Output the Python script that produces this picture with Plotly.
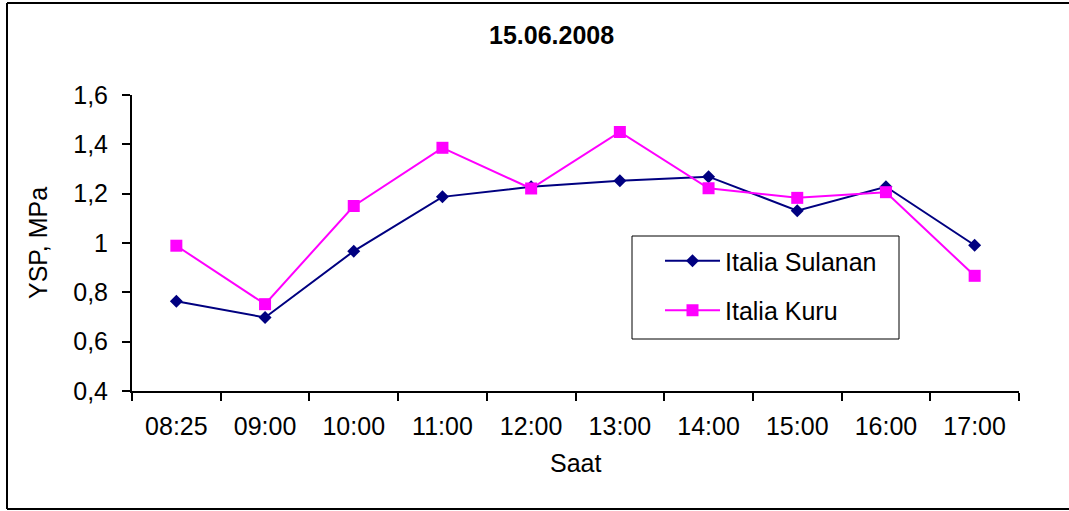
import plotly.graph_objects as go

hours = ["08:25", "09:00", "10:00", "11:00", "12:00", "13:00", "14:00", "15:00", "16:00", "17:00"]
sulanan = [0.764, 0.698, 0.967, 1.187, 1.228, 1.252, 1.269, 1.131, 1.228, 0.991]
kuru = [0.989, 0.752, 1.150, 1.386, 1.221, 1.450, 1.222, 1.183, 1.206, 0.867]

W, H = 1069, 511
L, R, T, B = 132, 1019, 95, 391
FONT = "Arial, Liberation Sans, sans-serif"


def px_x(p):
    return (p - L) / (R - L)


def px_y(p):
    return (B - p) / (B - T)


fig = go.Figure()
fig.add_trace(go.Scatter(x=hours, y=sulanan, name="Italia Sulanan", mode="lines+markers",
                         legendgroup="a",
                         line=dict(color="#000080", width=2),
                         marker=dict(symbol="diamond", size=10, color="#000080")))
fig.add_trace(go.Scatter(x=hours, y=kuru, name="Italia Kuru", mode="lines+markers",
                         legendgroup="b",
                         line=dict(color="#FF00FF", width=2),
                         marker=dict(symbol="square", size=12, color="#FF00FF")))

fig.update_xaxes(type="category", range=[-0.5, 9.5], tickson="boundaries",
                 ticks="outside", ticklen=8, tickwidth=2, tickcolor="black",
                 ticklabelstandoff=12,
                 showline=True, linecolor="black", linewidth=2, showgrid=False, zeroline=False,
                 tickfont=dict(family=FONT, size=25, color="black"))
fig.update_yaxes(range=[0.4, 1.6], dtick=0.2, tick0=0.4,
                 ticks="outside", ticklen=8, tickwidth=2, tickcolor="black",
                 ticklabelstandoff=9,
                 showline=True, linecolor="black", linewidth=2, showgrid=False, zeroline=False,
                 tickfont=dict(family=FONT, size=25, color="black"))

fig.update_layout(
    width=W, height=H, autosize=False,
    margin=dict(l=L, r=W - R, t=T, b=H - B, pad=0),
    paper_bgcolor="white", plot_bgcolor="white",
    separators=",.",
    font=dict(family=FONT, size=25, color="black"),
    showlegend=True,
    legend=dict(x=px_x(660), y=px_y(238), xanchor="left", yanchor="top",
                borderwidth=0, bgcolor="rgba(0,0,0,0)",
                traceorder="grouped", tracegroupgap=14, itemwidth=55,
                font=dict(family=FONT, size=25, color="black")),
    annotations=[
        dict(text="<b>15.06.2008</b>", x=px_x(551), y=px_y(35), xref="paper", yref="paper",
             showarrow=False, xanchor="center", yanchor="middle",
             font=dict(family=FONT, size=25, color="black")),
        dict(text="Saat", x=0.5, y=px_y(463), xref="paper", yref="paper",
             showarrow=False, xanchor="center", yanchor="middle",
             font=dict(family=FONT, size=25, color="black")),
        dict(text="YSP, MPa", x=px_x(38), y=0.5, xref="paper", yref="paper", textangle=-90,
             showarrow=False, xanchor="center", yanchor="middle",
             font=dict(family=FONT, size=25, color="black")),
    ],
    shapes=[
        # legend frame
        dict(type="rect", xref="paper", yref="paper", x0=px_x(632), x1=px_x(899),
             y0=px_y(236), y1=px_y(339), fillcolor="white", layer="above",
             line=dict(color="black", width=1)),
        # chart border
        dict(type="line", xref="paper", yref="paper", x0=px_x(7), x1=px_x(W), y0=px_y(3), y1=px_y(3),
             line=dict(color="black", width=2)),
        dict(type="line", xref="paper", yref="paper", x0=px_x(7), x1=px_x(W), y0=px_y(509), y1=px_y(509),
             line=dict(color="black", width=2)),
        dict(type="line", xref="paper", yref="paper", x0=px_x(7), x1=px_x(7), y0=px_y(3), y1=px_y(509),
             line=dict(color="black", width=2)),
    ],
)

fig.write_html("out.html", config={"displayModeBar": False},
               post_script="document.body.style.margin='0';document.body.style.overflow='hidden';")
